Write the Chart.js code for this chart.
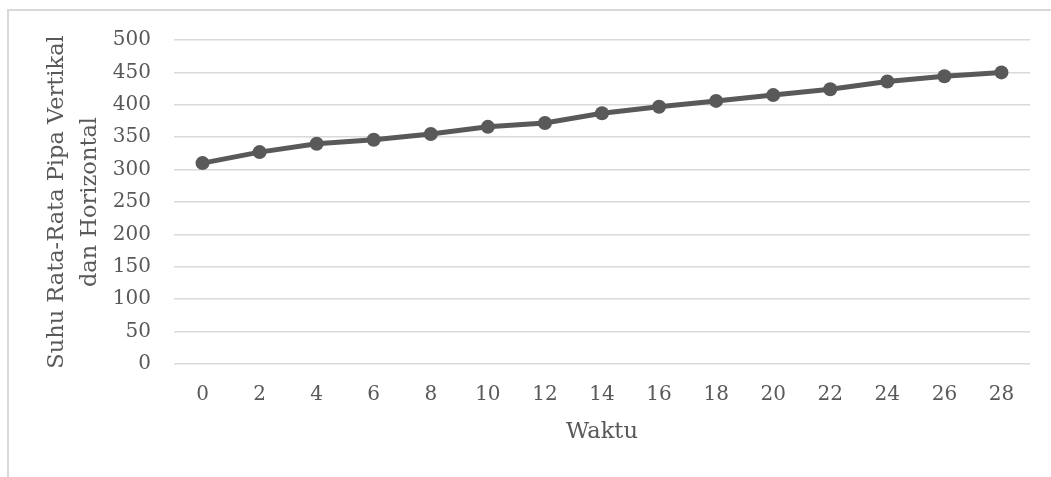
<!DOCTYPE html>
<html>
<head>
<meta charset="utf-8">
<script src="https://cdn.jsdelivr.net/npm/chart.js@4/dist/chart.umd.min.js"></script>
<style>
  html, body { margin: 0; padding: 0; background: #fff; overflow: hidden; }
  #wrap { position: relative; width: 1051px; height: 477px; }
  #frame {
    position: absolute; left: 7px; top: 9px; width: 1100px; height: 500px;
    border-top: 2px solid #d9d9d9; border-left: 2px solid #d9d9d9;
  }
  #chart { position: absolute; left: 0; top: 0; }
</style>
</head>
<body>
<div id="wrap">
  <div id="frame"></div>
  <canvas id="chart" width="1051" height="477"></canvas>
</div>
<script>
// waktu (x) and average pipe temperature (y)
const waktu = ['0', '2', '4', '6', '8', '10', '12', '14', '16', '18', '20', '22', '24', '26', '28'];
const suhuRataRata = [310, 327, 340, 346, 355, 366, 372, 387, 397, 406, 415, 424, 436, 444, 450];
const yTicks = [0, 50, 100, 150, 200, 250, 300, 350, 400, 450, 500];

const grey = '#595959';
const fontFamily = "'DejaVu Serif', 'Liberation Serif', serif";

const ctx = document.getElementById('chart').getContext('2d');

new Chart(ctx, {
    type: 'line',
    data: {
        labels: waktu,
        datasets: [{
            label: 'Suhu',
            data: suhuRataRata,
            borderColor: grey,
            backgroundColor: grey,
            borderWidth: 5,
            pointRadius: 7,
            pointBorderWidth: 0,
            pointBackgroundColor: grey,
            tension: 0
        }]
    },
    options: {
        responsive: false,
        animation: false,
        layout: { padding: { left: 0, top: 40, right: 21, bottom: 0 } },
        plugins: {
            legend: { display: false },
            tooltip: { enabled: false }
        },
        scales: {
            x: {
                offset: true,
                grid: { display: false, drawTicks: false },
                border: { display: false },
                ticks: {
                    color: grey,
                    padding: 19,
                    maxRotation: 0,
                    font: { family: fontFamily, size: 20 }
                },
                title: {
                    display: true,
                    text: 'Waktu',
                    color: grey,
                    padding: { top: 0, bottom: 31 },
                    font: { family: fontFamily, size: 22.5, lineHeight: 1.2 }
                },
                afterFit: (scale) => { scale.height = 113; }
            },
            y: {
                min: yTicks[0],
                max: yTicks[yTicks.length - 1],
                afterBuildTicks: (scale) => {
                    scale.ticks = yTicks.map(v => ({ value: v }));
                },
                grid: { color: '#d9d9d9', lineWidth: 1.5, drawTicks: false },
                border: { display: false },
                ticks: {
                    color: grey,
                    padding: 23,
                    font: { family: fontFamily, size: 20 }
                },
                title: {
                    display: true,
                    text: ['Suhu Rata-Rata Pipa Vertikal', 'dan Horizontal'],
                    color: grey,
                    padding: { top: 41, bottom: 0 },
                    font: { family: fontFamily, size: 22.5, lineHeight: 1.47 }
                },
                afterFit: (scale) => { scale.width = 174; }
            }
        }
    }
});
</script>
</body>
</html>
